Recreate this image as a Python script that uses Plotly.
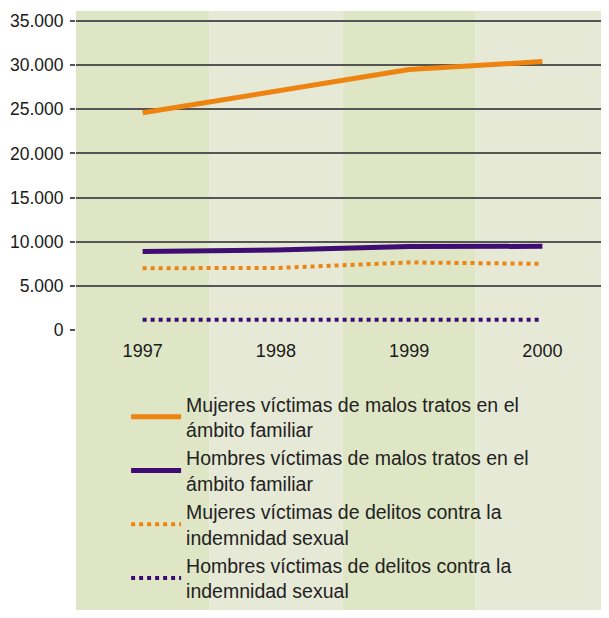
import plotly.graph_objects as go

years = ["1997", "1998", "1999", "2000"]
mujeres_malos_tratos = [24600, 27000, 29500, 30400]
hombres_malos_tratos = [8900, 9050, 9450, 9480]
mujeres_delitos = [7000, 7020, 7650, 7500]
hombres_delitos = [1170, 1170, 1170, 1170]

names = [
    "Mujeres víctimas de malos tratos en el<br>ámbito familiar",
    "Hombres víctimas de malos tratos en el<br>ámbito familiar",
    "Mujeres víctimas de delitos contra la<br>indemnidad sexual",
    "Hombres víctimas de delitos contra la<br>indemnidad sexual",
]
y_ticks = [0, 5000, 10000, 15000, 20000, 25000, 30000, 35000]
y_labels = ["0", "5.000", "10.000", "15.000", "20.000", "25.000", "30.000", "35.000"]

orange = "#EE8310"
purple = "#3E0C73"
band_dark = "#DFE6C6"
band_light = "#E6E9D6"

fig = go.Figure()
series = [
    (mujeres_malos_tratos, orange, "solid", 5),
    (hombres_malos_tratos, purple, "solid", 5),
    (mujeres_delitos, orange, "dot", 4),
    (hombres_delitos, purple, "dot", 4),
]
for (vals, color, dash, w), name in zip(series, names):
    fig.add_trace(go.Scatter(x=years, y=vals, name=name, mode="lines",
                             line=dict(color=color, dash=dash, width=w)))

# alternating background bands, running down behind the legend
for i in range(len(years)):
    fig.add_shape(type="rect", xref="x", yref="paper",
                  x0=i - 0.5, x1=i + 0.5, y0=-0.9, y1=1,
                  fillcolor=band_dark if i % 2 == 0 else band_light,
                  line_width=0, layer="below")

# page body has an 8px margin, so the figure is a bit smaller than the window
plot_h = 602 - 3 - 280
fig.update_layout(
    width=601, height=602,
    margin=dict(l=68, r=0, t=3, b=280),
    paper_bgcolor="white", plot_bgcolor="rgba(0,0,0,0)",
    font=dict(family="Liberation Sans, Arial, sans-serif", color="#1a1a1a"),
    showlegend=True,
    # legend sits flush with the bottom edge so it doesn't push the margins
    legend=dict(x=0.094, y=-280 / plot_h, xanchor="left", yanchor="bottom",
                bgcolor="rgba(0,0,0,0)", font=dict(size=19.5, color="#222"),
                itemwidth=50, tracegroupgap=0),
)
fig.update_xaxes(range=[-0.5, 3.5], showgrid=False, zeroline=False,
                 ticks="", tickfont=dict(size=18),
                 ticklabelstandoff=8, fixedrange=True)
fig.update_yaxes(range=[0, 36133], tickvals=y_ticks, ticktext=y_labels,
                 showgrid=True, gridcolor="#555555", gridwidth=1.5,
                 zeroline=False, ticks="outside", ticklen=5, tickcolor="#555555",
                 tickwidth=1.5, tickfont=dict(size=17.5), ticklabelstandoff=3,
                 fixedrange=True)

fig.write_html("out.html")
